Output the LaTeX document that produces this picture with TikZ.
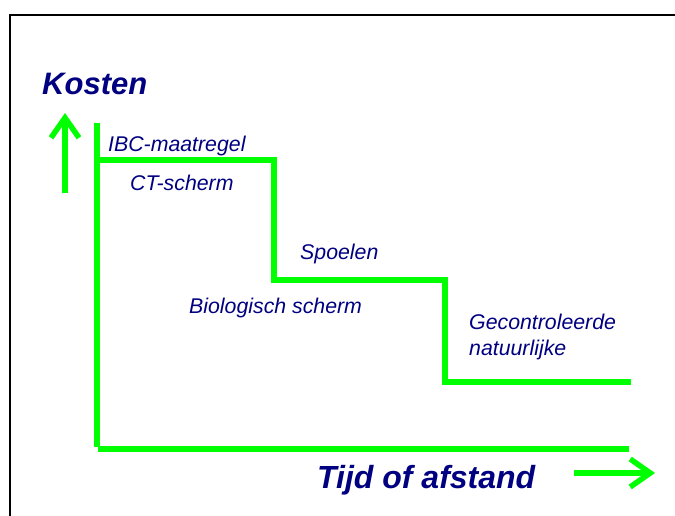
\documentclass[tikz,border=0pt]{standalone}
\usepackage{fontspec}
\setmainfont{Liberation Sans}
\usetikzlibrary{arrows.meta}
\definecolor{navy}{HTML}{000080}
\definecolor{lgreen}{HTML}{00FF00}
\tikzset{
  gline/.style={draw=lgreen, line width=5.5pt, line cap=butt, line join=miter},
  garrow/.style={gline, -{Straight Barb[length=20pt, width=28pt, line width=5.5pt]}},
  small/.style={anchor=base west, inner sep=0pt, text=navy, font=\fontsize{21.3}{25}\selectfont\itshape},
  big/.style={anchor=base west, inner sep=0pt, text=navy, font=\fontsize{31}{36}\selectfont\bfseries\itshape},
  bigger/.style={big, font=\fontsize{32}{36}\selectfont\bfseries\itshape},
  frame/.style={draw=black, line width=2pt}
}
\begin{document}
\begin{tikzpicture}[x=1pt,y=-1pt]
\useasboundingbox (0,0) rectangle (675,516);
% frame
\coordinate (f1) at (10,530);
\coordinate (f2) at (10,15);
\coordinate (f3) at (690,15);
\draw[frame] (f1) -- (f2) -- (f3);
% axes
\coordinate (ytop) at (97,123);
\coordinate (ybot) at (97,447);
\coordinate (xl) at (98,449);
\coordinate (xr) at (629,449);
\draw[gline] (ytop) -- (ybot);
\draw[gline] (xl) -- (xr);
% steps
\coordinate (s0) at (97,160);
\coordinate (s1) at (274,160);
\coordinate (s2) at (274,280);
\coordinate (s3) at (445,280);
\coordinate (s4) at (445,382);
\coordinate (s5) at (631,382);
\draw[gline] (s0) -- (s1) -- (s2) -- (s3) -- (s4) -- (s5);
% arrows
\coordinate (ua0) at (65,193);
\coordinate (ua1) at (65,113);
\draw[garrow] (ua0) -- (ua1);
\coordinate (ra0) at (574,473);
\coordinate (ra1) at (655,473);
\draw[garrow] (ra0) -- (ra1);
% labels
\node[big] (kosten) at (42,95) {Kosten};
\node[bigger] (tijd) at (317,488) {Tijd of afstand};
\node[small] (ibc) at (108,152) {IBC-maatregel};
\node[small] (ct) at (130,190) {CT-scherm};
\node[small] (spoelen) at (300,259) {Spoelen};
\node[small] (bio) at (189,313) {Biologisch scherm};
\node[small] (gec) at (469,329) {Gecontroleerde};
\node[small] (nat) at (469,355) {natuurlijke};
\end{tikzpicture}
\end{document}
